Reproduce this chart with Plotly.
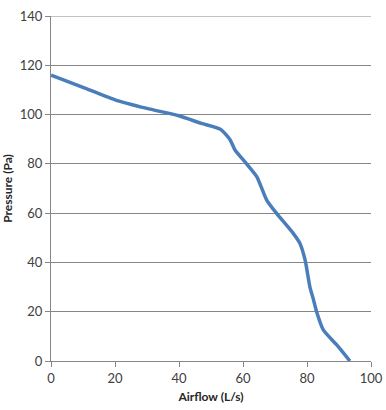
import plotly.graph_objects as go

airflow = [0, 10, 20, 30, 40, 47, 53, 56, 57.5, 61, 64.3, 67.4, 70.5, 75.7, 77.8, 79.4, 80.9, 82, 83, 85.1, 89.3, 93.4]
pressure = [116, 111, 106, 102.5, 99.5, 96.4, 94, 89.7, 85.6, 80.2, 74.8, 65.3, 59.9, 51.8, 47.7, 41, 30.1, 25, 20, 12.6, 6.5, 0]

x_ticks = [0, 20, 40, 60, 80, 100]
y_ticks = [0, 20, 40, 60, 80, 100, 120, 140]

fig = go.Figure()
fig.add_trace(go.Scatter(
    x=airflow, y=pressure, mode="lines",
    line=dict(color="#4A7EBB", width=3.5, shape="spline", smoothing=0.6),
    showlegend=False, hoverinfo="skip", cliponaxis=False,
))
# top gridline (plotly drops gridlines at the range edge)
fig.add_shape(type="line", xref="paper", x0=0, x1=1, yref="y", y0=y_ticks[-1], y1=y_ticks[-1],
              line=dict(color="#868686", width=1), layer="below")

fam = "Lato, Open Sans, sans-serif"
axis_font = dict(family=fam, size=13, color="#404040")
fig.update_layout(
    width=386, height=410,
    margin=dict(l=51, r=15, t=16, b=49, autoexpand=False),
    paper_bgcolor="white", plot_bgcolor="white",
    font=axis_font,
    xaxis=dict(
        range=[0, 100], tickvals=x_ticks, showgrid=False, zeroline=False,
        showline=True, linecolor="#868686", linewidth=1,
        ticks="outside", ticklen=5, tickcolor="#868686",
        tickfont=axis_font, automargin=False, ticklabeloverflow="allow",
        title=dict(text="<b>Airflow (L/s)</b>", font=dict(family=fam, size=12, color="#262626"), standoff=8),
    ),
    yaxis=dict(
        range=[0, 140], tickvals=y_ticks, showgrid=True, gridcolor="#868686", gridwidth=1,
        zeroline=False, showline=True, linecolor="#868686", linewidth=1,
        ticks="outside", ticklen=5, tickcolor="#868686",
        tickfont=axis_font, automargin=False, ticklabeloverflow="allow",
        title=dict(text="<b>Pressure (Pa)</b>", font=dict(family=fam, size=12, color="#262626"), standoff=4),
    ),
)

fig.write_html("out.html", config={"displayModeBar": False},
               post_script="document.body.style.margin='0';document.body.style.overflow='hidden';")
